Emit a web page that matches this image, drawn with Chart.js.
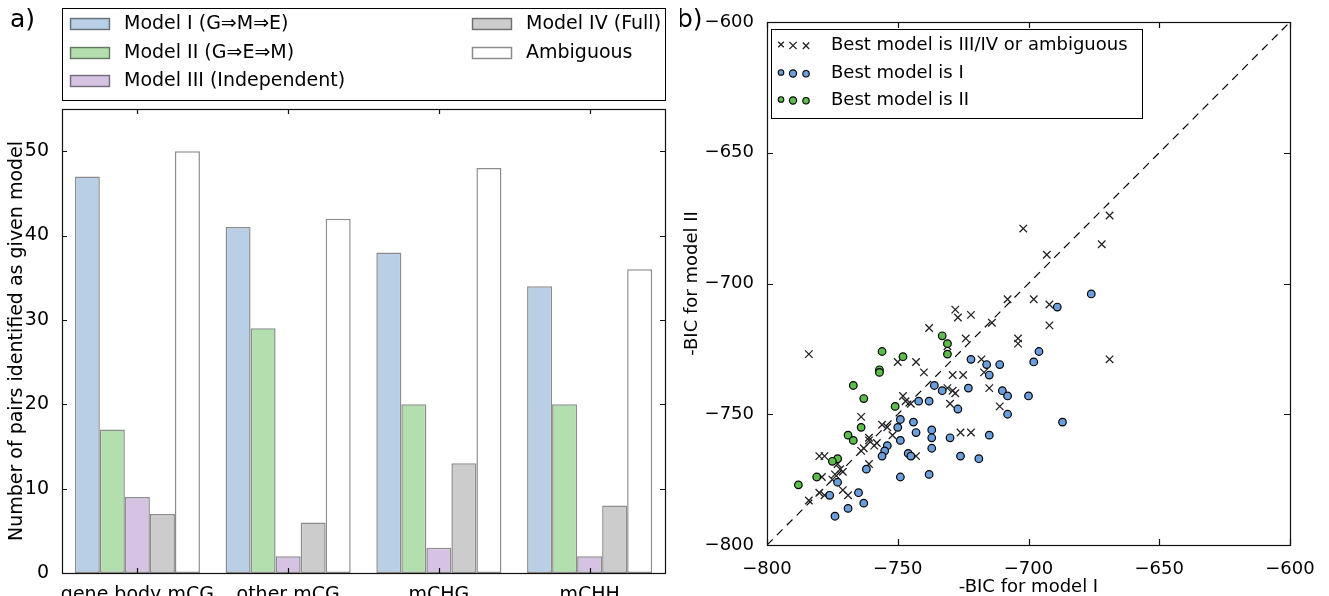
<!DOCTYPE html>
<html>
<head>
<meta charset="utf-8">
<script src="https://cdn.jsdelivr.net/npm/chart.js@4.4.1/dist/chart.umd.min.js"></script>
<style>
  body { margin: 0; background: #fff; width: 1329px; height: 596px; overflow: hidden; position: relative; }
  canvas { position: absolute; top: 0; }
  #barChart { left: 0; }
  #scatterChart { left: 680px; }
</style>
</head>
<body>
<canvas id="barChart" width="670" height="596"></canvas>
<canvas id="scatterChart" width="649" height="596"></canvas>
<script>
// panel a) data
var categories = ['gene body mCG', 'other mCG', 'mCHG', 'mCHH'];
var modelNames = ['Model I (G\u21D2M\u21D2E)', 'Model II (G\u21D2E\u21D2M)', 'Model III (Independent)', 'Model IV (Full)', 'Ambiguous'];
var modelI = [47, 41, 38, 34];
var modelII = [17, 29, 20, 20];
var modelIII = [9, 2, 3, 2];
var modelIV = [7, 6, 13, 8];
var ambiguous = [50, 42, 48, 36];
var barTicks = [0, 10, 20, 30, 40, 50];

// panel b) data  [-BIC model I, -BIC model II]
var bestOther = [
  [-784,-727],[-702,-679],[-669,-674],[-672,-685],[-693,-689],[-708,-706],[-698,-706],[-692,-708],
  [-692,-716],[-704,-721],[-704,-723],[-669,-729],[-728,-710],[-727,-713],[-722,-712],[-738,-717],
  [-714,-715],[-724,-721],[-718,-729],[-729,-735],[-725,-735],[-717,-734],[-715,-740],[-731,-740],
  [-729,-741],[-728,-742],[-730,-746],[-711,-747],[-726,-757],[-722,-757],[-750,-730],[-743,-730],
  [-740,-734],[-748,-743],[-747,-745],[-745,-746],[-764,-751],[-756,-754],[-754,-755],[-752,-758],
  [-761,-759],[-780,-766],[-778,-766],[-761,-760],[-764,-764],[-763,-763],[-759,-762],[-758,-761],
  [-761,-769],[-773,-769],[-772,-771],[-771,-772],[-774,-773],[-779,-774],[-775,-775],[-771,-779],
  [-769,-781],[-780,-780],[-778,-781],[-784,-783],[-743,-766],[-731,-724]
];
var bestI = [
  [-676,-704],[-689,-709],[-696,-726],[-698,-730],[-722,-729],[-716,-731],[-711,-731],[-715,-735],
  [-723,-740],[-733,-741],[-710,-741],[-708,-743],[-700,-743],[-727,-748],[-708,-750],[-687,-753],
  [-730,-759],[-715,-758],[-726,-766],[-719,-767],[-736,-739],[-742,-745],[-738,-745],[-749,-752],
  [-750,-755],[-744,-753],[-743,-757],[-737,-756],[-737,-759],[-754,-762],[-749,-760],[-755,-764],
  [-756,-766],[-746,-765],[-745,-766],[-737,-763],[-762,-771],[-773,-776],[-749,-774],[-738,-773],
  [-776,-781],[-765,-780],[-763,-784],[-769,-786],[-774,-789]
];
var bestII = [
  [-733,-720],[-731,-723],[-731,-727],[-756,-726],[-748,-728],[-757,-733],[-757,-734],[-767,-739],
  [-763,-744],[-751,-747],[-764,-755],[-769,-758],[-767,-760],[-773,-767],[-775,-768],[-781,-774],
  [-788,-777]
];
var bicTicks = [-800, -750, -700, -650, -600];
var diagonal = [-800, -600];

var FONT = 'DejaVu Sans';
Chart.defaults.font.family = FONT;
Chart.defaults.font.size = 19;
Chart.defaults.color = '#000';

function toXY(arr) {
  return arr.map(function (p) { return { x: p[0], y: p[1] }; });
}

// box around the plot and ticks pointing inward on all four sides
function frameAndTicks(len) {
  return {
    id: 'frameAndTicks',
    afterDatasetsDraw: function (chart) {
      var ctx = chart.ctx, a = chart.chartArea;
      var xs = chart.scales.x, ys = chart.scales.y;
      ctx.save();
      ctx.strokeStyle = '#111';
      ctx.lineWidth = 1.2;
      ctx.beginPath();
      xs.ticks.forEach(function (t, i) {
        var px = Math.round(xs.getPixelForTick(i)) + 0.5;
        ctx.moveTo(px, a.bottom); ctx.lineTo(px, a.bottom - len);
        ctx.moveTo(px, a.top); ctx.lineTo(px, a.top + len);
      });
      ys.ticks.forEach(function (t, i) {
        var py = Math.round(ys.getPixelForTick(i)) + 0.5;
        ctx.moveTo(a.left, py); ctx.lineTo(a.left + len, py);
        ctx.moveTo(a.right, py); ctx.lineTo(a.right - len, py);
      });
      ctx.stroke();
      ctx.strokeRect(Math.round(a.left) + 0.5, Math.round(a.top) + 0.5,
        Math.round(a.right - a.left), Math.round(a.bottom - a.top));
      ctx.restore();
    }
  };
}

function panelLabel(text, x, y) {
  return {
    id: 'panelLabel',
    afterDraw: function (chart) {
      var ctx = chart.ctx;
      ctx.save();
      ctx.font = '25px "' + FONT + '"';
      ctx.fillStyle = '#000';
      ctx.textBaseline = 'middle';
      ctx.fillText(text, x, y);
      ctx.restore();
    }
  };
}

// Legend of panel a) (two columns like matplotlib ncol=2)
var legendBars = {
  id: 'legendBars',
  afterDraw: function (chart) {
    var ctx = chart.ctx;
    ctx.save();
    ctx.fillStyle = '#fff';
    ctx.fillRect(62, 8, 603, 92);
    ctx.strokeStyle = '#000';
    ctx.lineWidth = 1;
    ctx.strokeRect(62.5, 8.5, 603, 92);
    var rows = [24, 53, 81];
    var cols = [70, 472];
    ctx.font = '19px "' + FONT + '"';
    ctx.textBaseline = 'middle';
    chart.data.datasets.forEach(function (ds, i) {
      var col = i < 3 ? 0 : 1;
      var row = i < 3 ? i : i - 3;
      var x = cols[col], y = rows[row];
      ctx.fillStyle = ds.backgroundColor;
      ctx.fillRect(x, y - 6, 40, 12);
      ctx.strokeStyle = ds.borderColor;
      ctx.lineWidth = 1.5;
      ctx.strokeRect(x + 0.5, y - 5.5, 39, 11);
      ctx.fillStyle = '#000';
      ctx.fillText(ds.label, x + 54, y);
    });
    ctx.restore();
  }
};

var barColors = ['#b8cfe6', '#b3dfae', '#d6c3e3', '#cccccc', '#ffffff'];
var barSeries = [modelI, modelII, modelIII, modelIV, ambiguous];

new Chart(document.getElementById('barChart').getContext('2d'), {
  type: 'bar',
  data: {
    labels: categories,
    datasets: barSeries.map(function (vals, i) {
      return {
        label: modelNames[i],
        data: vals,
        backgroundColor: barColors[i],
        borderColor: 'rgba(0,0,0,0.45)',
        borderWidth: 1.5,
        borderSkipped: false,
        barPercentage: 1.0,
        categoryPercentage: 0.83
      };
    })
  },
  options: {
    responsive: false,
    animation: false,
    devicePixelRatio: 1,
    layout: { padding: { top: 109, right: 5, left: 0, bottom: 0 } },
    plugins: { legend: { display: false }, tooltip: { enabled: false } },
    scales: {
      x: {
        grid: { display: false },
        border: { display: false },
        ticks: { padding: 3, maxRotation: 0, minRotation: 0, autoSkip: false },
        afterFit: function (s) { s.height = 23; s.paddingLeft = 0; s.paddingRight = 0; }
      },
      y: {
        min: 0,
        max: 55,
        grid: { display: false },
        border: { display: false },
        ticks: { padding: 5 },
        afterBuildTicks: function (s) {
          s.ticks = barTicks.map(function (v) { return { value: v }; });
        },
        title: {
          display: true,
          text: 'Number of pairs identified as given model',
          padding: { top: 6, bottom: 0 }
        },
        afterFit: function (s) { s.width = 62; }
      }
    }
  },
  plugins: [frameAndTicks(5), legendBars, panelLabel('a)', 10, 20)]
});

// Legend of panel b)
function drawMarker(ctx, style, x, y, r, fill) {
  ctx.beginPath();
  if (style === 'x') {
    ctx.strokeStyle = '#222';
    ctx.lineWidth = 1.3;
    ctx.moveTo(x - r, y - r); ctx.lineTo(x + r, y + r);
    ctx.moveTo(x - r, y + r); ctx.lineTo(x + r, y - r);
    ctx.stroke();
  } else {
    ctx.fillStyle = fill;
    ctx.strokeStyle = '#000';
    ctx.lineWidth = 1.1;
    ctx.arc(x, y, r, 0, Math.PI * 2);
    ctx.fill();
    ctx.stroke();
  }
}

var legendScatter = {
  id: 'legendScatter',
  afterDraw: function (chart) {
    var ctx = chart.ctx;
    var ox = 91, oy = 29;
    ctx.save();
    ctx.fillStyle = '#fff';
    ctx.fillRect(ox, oy, 371, 89);
    ctx.strokeStyle = '#000';
    ctx.lineWidth = 1;
    ctx.strokeRect(ox + 0.5, oy + 0.5, 371, 89);
    var entries = [
      { style: 'x', fill: null, label: chart.data.datasets[1].label, y: 45 },
      { style: 'o', fill: chart.data.datasets[2].backgroundColor, label: chart.data.datasets[2].label, y: 73 },
      { style: 'o', fill: chart.data.datasets[3].backgroundColor, label: chart.data.datasets[3].label, y: 100 }
    ];
    var sizes = [2.8, 3.6, 3.2];
    var offs = [-1, 1, 1.5];
    entries.forEach(function (e) {
      [101, 113, 126].forEach(function (mx, k) {
        drawMarker(ctx, e.style, mx, e.y + offs[k] * 0.5, sizes[k], e.fill);
      });
      ctx.fillStyle = '#000';
      ctx.font = '18px "' + FONT + '"';
      ctx.textBaseline = 'middle';
      ctx.fillText(e.label, 151, e.y);
    });
    ctx.restore();
  }
};

function minusFmt(v) {
  return String(v).replace('-', '\u2212');
}

new Chart(document.getElementById('scatterChart').getContext('2d'), {
  type: 'scatter',
  data: {
    datasets: [
      {
        type: 'line',
        label: 'y = x',
        data: [{ x: diagonal[0], y: diagonal[0] }, { x: diagonal[1], y: diagonal[1] }],
        borderColor: '#000',
        borderWidth: 1.2,
        borderDash: [8, 6],
        pointRadius: 0,
        fill: false,
        order: 4
      },
      {
        label: 'Best model is III/IV or ambiguous',
        data: toXY(bestOther),
        pointStyle: 'crossRot',
        pointRadius: 5.3,
        borderColor: '#222',
        borderWidth: 1.3,
        backgroundColor: '#222',
        order: 3
      },
      {
        label: 'Best model is I',
        data: toXY(bestI),
        pointStyle: 'circle',
        pointRadius: 3.8,
        backgroundColor: '#6a9fdc',
        borderColor: '#000',
        borderWidth: 1.2,
        order: 2
      },
      {
        label: 'Best model is II',
        data: toXY(bestII),
        pointStyle: 'circle',
        pointRadius: 3.8,
        backgroundColor: '#5dbd4c',
        borderColor: '#000',
        borderWidth: 1.2,
        order: 1
      }
    ]
  },
  options: {
    responsive: false,
    animation: false,
    devicePixelRatio: 1,
    layout: { padding: { top: 22, right: 39, left: 0, bottom: 0 } },
    plugins: { legend: { display: false }, tooltip: { enabled: false } },
    scales: {
      x: {
        type: 'linear',
        min: -800,
        max: -600,
        grid: { display: false },
        border: { display: false },
        ticks: { padding: 6, font: { size: 18 }, callback: minusFmt },
        afterBuildTicks: function (s) {
          s.ticks = bicTicks.map(function (v) { return { value: v }; });
        },
        title: { display: true, text: '-BIC for model I', font: { size: 18 }, padding: { top: 0, bottom: -2 } },
        afterFit: function (s) { s.height = 51; }
      },
      y: {
        type: 'linear',
        min: -800,
        max: -600,
        grid: { display: false },
        border: { display: false },
        ticks: { padding: 5, font: { size: 18 }, callback: minusFmt },
        afterBuildTicks: function (s) {
          s.ticks = bicTicks.map(function (v) { return { value: v }; });
        },
        title: { display: true, text: '-BIC for model II', font: { size: 18 }, padding: { top: 2, bottom: 0 } },
        afterFit: function (s) { s.width = 87; }
      }
    }
  },
  plugins: [frameAndTicks(6), legendScatter, panelLabel('b)', -3, 20)]
});
</script>
</body>
</html>
